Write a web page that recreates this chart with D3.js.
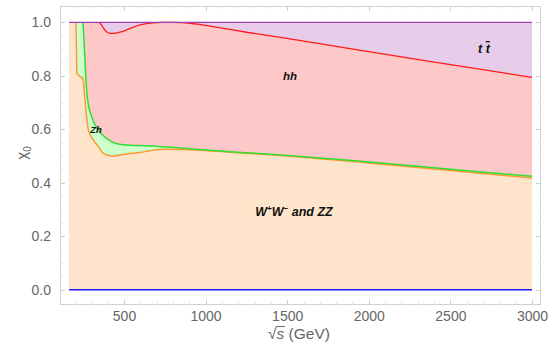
<!DOCTYPE html>
<html>
<head>
<meta charset="utf-8">
<script src="https://cdn.jsdelivr.net/npm/d3@7"></script>
<style>
  html, body { margin: 0; padding: 0; background: #fff; }
  svg { display: block; font-family: "Liberation Sans", Arial, sans-serif; }
</style>
</head>
<body>
<svg id="chart" width="552" height="352"></svg>
<script>
// Boundaries between dominant decay channels, as a function of sqrt(s) in GeV.
const sRed = [163, 350, 362, 378, 395, 414, 440, 475, 510, 550, 600, 660, 740, 800, 860, 950, 1045, 1270, 1500, 2000, 2500, 3000];
const vRed = [1, 1, 0.99, 0.975, 0.964, 0.959, 0.959, 0.963, 0.97, 0.98, 0.99, 0.997, 1.0, 1.0, 0.999, 0.993, 0.984, 0.961, 0.94, 0.89, 0.842, 0.794];

const sGreen = [163, 249, 258, 267, 277, 302, 343, 394, 445, 517, 598, 739, 945, 1149, 1394, 2000, 2500, 3000];
const vGreen = [1, 1, 0.896, 0.784, 0.71, 0.647, 0.597, 0.566, 0.548, 0.541, 0.539, 0.535, 0.525, 0.516, 0.507, 0.478, 0.451, 0.424];

const sOrange = [163, 206, 209, 212, 225, 249, 261, 270, 282, 312, 343, 364, 394, 435, 517, 598, 659, 739, 945, 1149, 1394, 2000, 2500, 3000];
const vOrange = [1, 1, 0.896, 0.81, 0.8, 0.788, 0.71, 0.653, 0.597, 0.56, 0.535, 0.516, 0.504, 0.5, 0.508, 0.513, 0.52, 0.525, 0.523, 0.514, 0.505, 0.474, 0.446, 0.418];

const sEdge = [163, 3000];
const vTop = [1, 1];
const vBottom = [0, 0];

const xTicks = [500, 1000, 1500, 2000, 2500, 3000];
const yTicks = [0, 0.2, 0.4, 0.6, 0.8, 1.0];

const zip = (a, b) => a.map((d, i) => [d, b[i]]);

const svg = d3.select("#chart");
const x = d3.scaleLinear().domain([108, 3055]).range([60, 541]);
const y = d3.scaleLinear().domain([-0.057, 1.061]).range([305, 6]);

// frame with inward ticks on all four sides
const frame = svg.append("g");
frame.append("rect")
  .attr("x", 60.5).attr("y", 6.5).attr("width", 480).attr("height", 298)
  .attr("fill", "none").attr("stroke", "#d0d0d0").attr("stroke-width", 1);

const xMinor = d3.range(200, 3001, 100).filter(v => v % 500 !== 0);
const yMinor = d3.range(0, 1.0001, 0.05).filter(v => Math.abs(v * 5 - Math.round(v * 5)) > 1e-6);

function xTickMarks(vals, len, col) {
  vals.forEach(v => {
    const px = Math.round(x(v)) + 0.5;
    frame.append("line").attr("x1", px).attr("x2", px).attr("y1", 305).attr("y2", 305 - len)
      .attr("stroke", col);
    frame.append("line").attr("x1", px).attr("x2", px).attr("y1", 6).attr("y2", 6 + len)
      .attr("stroke", col);
  });
}
function yTickMarks(vals, len, col) {
  vals.forEach(v => {
    const py = Math.round(y(v)) + 0.5;
    frame.append("line").attr("x1", 60).attr("x2", 60 + len).attr("y1", py).attr("y2", py)
      .attr("stroke", col);
    frame.append("line").attr("x1", 541).attr("x2", 541 - len).attr("y1", py).attr("y2", py)
      .attr("stroke", col);
  });
}
xTickMarks(xMinor, 3, "#e2e2e2");
xTickMarks(xTicks, 5, "#cfcfcf");
yTickMarks(yMinor, 3, "#e2e2e2");
yTickMarks(yTicks, 5, "#cfcfcf");

// axis tick labels via d3 axes (domain path and tick lines hidden)
const xAxis = svg.append("g").attr("transform", "translate(0,305)")
  .call(d3.axisBottom(x).tickValues(xTicks).tickSize(0).tickPadding(6).tickFormat(d3.format("d")));
const yAxis = svg.append("g").attr("transform", "translate(60,0)")
  .call(d3.axisLeft(y).tickValues(yTicks).tickSize(0).tickPadding(9).tickFormat(d3.format(".1f")));
[xAxis, yAxis].forEach(g => {
  g.select(".domain").remove();
  g.selectAll("text").attr("fill", "#666").style("font-size", "14px")
    .style("font-family", "'Liberation Sans', Arial, sans-serif");
});

// region fills, painted from the top layer down
const area = d3.area().x(d => x(d[0])).y0(y(0)).y1(d => y(d[1])).curve(d3.curveMonotoneX);
const line = d3.line().x(d => x(d[0])).y(d => y(d[1])).curve(d3.curveMonotoneX);

const plot = svg.append("g");
plot.append("path").datum(zip(sEdge, vTop)).attr("d", area).attr("fill", "#e6cce8");
plot.append("path").datum(zip(sRed, vRed)).attr("d", area).attr("fill", "#ffc8c8");
plot.append("path").datum(zip(sGreen, vGreen)).attr("d", area).attr("fill", "#ccffcc");
plot.append("path").datum(zip(sOrange, vOrange)).attr("d", area).attr("fill", "#ffe4cc");

// boundary curves
const redPts = zip(sRed, vRed).filter(d => d[0] >= 350);
const greenPts = zip(sGreen, vGreen).filter(d => d[0] >= 249);
const orangePts = zip(sOrange, vOrange).filter(d => d[0] >= 206);
plot.append("path").datum(orangePts).attr("d", line)
  .attr("fill", "none").attr("stroke", "#ff9933").attr("stroke-width", 1.5);
plot.append("path").datum(greenPts).attr("d", line)
  .attr("fill", "none").attr("stroke", "#33dd33").attr("stroke-width", 1.5);
plot.append("path").datum(redPts).attr("d", line)
  .attr("fill", "none").attr("stroke", "#ff1a1a").attr("stroke-width", 1.3);
plot.append("path").datum(zip(sEdge, vTop)).attr("d", line)
  .attr("fill", "none").attr("stroke", "#a040b0").attr("stroke-width", 1.3);
plot.append("path").datum(zip(sEdge, vBottom)).attr("d", line)
  .attr("fill", "none").attr("stroke", "#1a1aff").attr("stroke-width", 1.3);

// region labels
const lab = svg.append("g").attr("fill", "#111")
  .style("font-weight", "bold").style("font-style", "italic");
lab.append("text").attr("x", 290).attr("y", 80).attr("text-anchor", "middle")
  .style("font-size", "11.5px").text("hh");
lab.append("text").attr("x", 96).attr("y", 133).attr("text-anchor", "middle")
  .style("font-size", "9.5px").text("Zh");
const tt = lab.append("text").attr("x", 484).attr("y", 53).attr("text-anchor", "middle")
  .style("font-size", "12.5px");
tt.append("tspan").text("t ");
tt.append("tspan").style("text-decoration", "overline").text("t");

const ww = lab.append("text").attr("x", 294).attr("y", 216).attr("text-anchor", "middle")
  .style("font-size", "12.5px");
ww.append("tspan").text("W");
ww.append("tspan").attr("dy", -5).style("font-size", "8px").text("+");
ww.append("tspan").attr("dy", 5).text("W");
ww.append("tspan").attr("dy", -5).style("font-size", "8px").text("\u2212");
ww.append("tspan").attr("dy", 5).text(" and ZZ");

// axis titles
const xt = svg.append("text").attr("x", 299).attr("y", 339).attr("text-anchor", "middle")
  .attr("fill", "#666").style("font-size", "15.5px");
xt.append("tspan").text("\u221A");
xt.append("tspan").style("font-style", "italic").text("s");
xt.append("tspan").text(" (GeV)");
// vinculum of the square root over "s"
{
  const el = xt.node();
  const root = el.getExtentOfChar(0);
  const sBox = el.getExtentOfChar(1);
  const yBar = root.y + 1.5;
  svg.append("line")
    .attr("x1", root.x + root.width - 0.5).attr("x2", sBox.x + sBox.width + 0.5)
    .attr("y1", yBar).attr("y2", yBar)
    .attr("stroke", "#666").attr("stroke-width", 1);
}

const yt = svg.append("text").attr("transform", "translate(27,153) rotate(-90)")
  .attr("text-anchor", "middle").attr("fill", "#666").style("font-size", "15px");
yt.append("tspan").text("\u03C7");
yt.append("tspan").attr("dy", 4).style("font-size", "10px").text("0");
</script>
</body>
</html>
